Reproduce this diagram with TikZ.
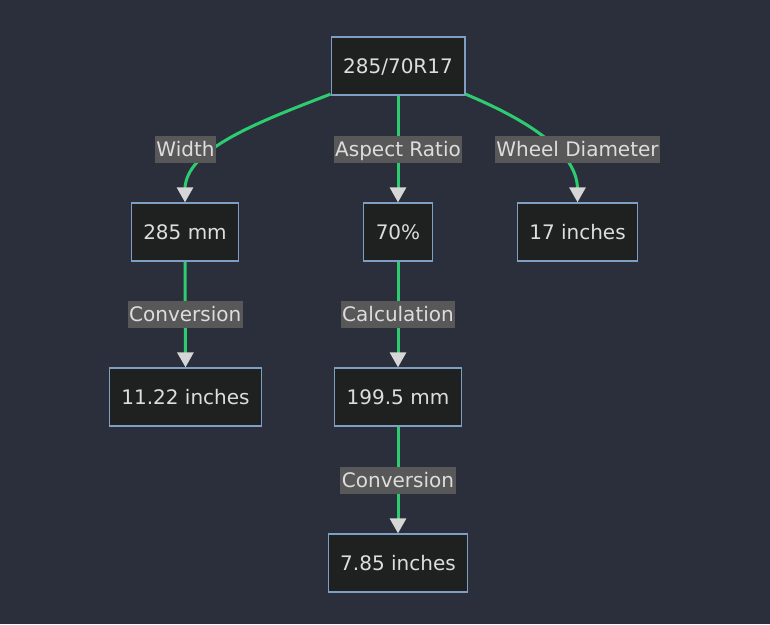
\documentclass[tikz,border=0pt]{standalone}
\usepackage{fontspec}
\setmainfont{DejaVu Sans}
\usetikzlibrary{arrows.meta}
\definecolor{c0}{HTML}{2B2F3B}
\definecolor{c1}{HTML}{1F2020}
\definecolor{c2}{HTML}{7D9FC4}
\definecolor{c3}{HTML}{2ECC71}
\definecolor{c4}{HTML}{D6D6D6}
\definecolor{c5}{HTML}{585858}
\definecolor{c6}{HTML}{DDDDDD}
\tikzset{%
  box/.style={draw=c2,fill=c1,text=c6,line width=1.3pt,inner xsep=12pt,
    minimum height=58pt,text height=14.6pt,text depth=0pt,
    font=\fontsize{20}{24}\selectfont},
  lbl/.style={fill=c5,text=c6,inner xsep=1.5pt,inner ysep=0pt,
    minimum height=27pt,text height=14.6pt,text depth=0pt,
    font=\fontsize{20}{24}\selectfont},
  link/.style={draw=c3,line width=3pt,
    -{Triangle[width=16pt,length=15pt,color=c4]}}
}

\begin{document}
\begin{tikzpicture}[x=1pt,y=-1pt]
  % Background
  \fill[c0] (0,0) rectangle (770,624);
  \useasboundingbox (0,0) rectangle (770,624);
  % Nodes
  \node[box] (n0) at (398,66) {285/70R17};
  \node[box] (n1) at (185,232) {285 mm};
  \node[box] (n2) at (398,232) {70\%};
  \node[box] (n3) at (577.5,232) {17 inches};
  \node[box] (n4) at (185.5,397) {11.22 inches};
  \node[box] (n5) at (398,397) {199.5 mm};
  \node[box] (n6) at (398,563) {7.85 inches};
  % Links
  \draw[link] ([yshift=1.5pt]n0.south west) .. controls +(-70,27)
    and ([yshift=53pt]n1.north) .. ([yshift=13pt]n1.north) -- (n1.north);
  \draw[link] (n0.south) -- node[lbl] (l1) {Aspect Ratio} (n2.north);
  \draw[link] ([yshift=1.5pt]n0.south east) .. controls +(55,23)
    and ([yshift=53pt]n3.north) .. ([yshift=13pt]n3.north) -- (n3.north);
  \draw[link] (n1.south) -- node[lbl] (l3) {Conversion} (n4.north);
  \draw[link] (n2.south) -- node[lbl] (l4) {Calculation} (n5.north);
  \draw[link] (n5.south) -- node[lbl] (l5) {Conversion} (n6.north);
  % Labels on the curved links
  \node[lbl] (l0) at (185.5,149) {Width};
  \node[lbl] (l2) at (577.5,149) {Wheel Diameter};
\end{tikzpicture}
\end{document}
